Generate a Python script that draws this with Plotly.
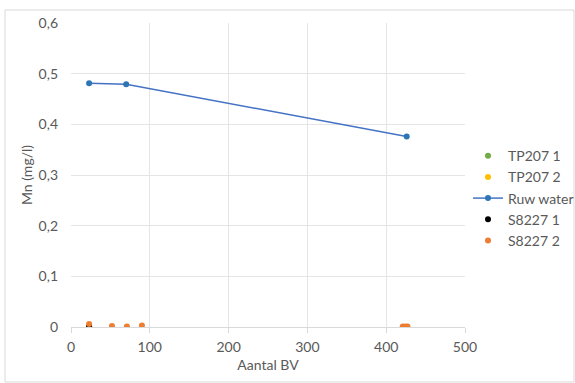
import plotly.graph_objects as go

# Data
tp207_1_x = [23, 23]
tp207_1_y = [0.0, 0.0]
tp207_2_x = [23]
tp207_2_y = [0.001]
ruw_x = [23, 70, 426]
ruw_y = [0.481, 0.479, 0.376]
s8227_1_x = [23]
s8227_1_y = [0.001]
s8227_2_x = [23, 52, 71, 90, 421, 424, 427]
s8227_2_y = [0.006, 0.002, 0.001, 0.003, 0.001, 0.001, 0.001]

x_ticks = [0, 100, 200, 300, 400, 500]
y_ticks = [0, 0.1, 0.2, 0.3, 0.4, 0.5, 0.6]
y_tick_text = ["0", "0,1", "0,2", "0,3", "0,4", "0,5", "0,6"]

fig = go.Figure()
fig.add_trace(go.Scatter(x=tp207_1_x, y=tp207_1_y, mode="markers", name="TP207 1",
                         marker=dict(color="#70AD47", size=6)))
fig.add_trace(go.Scatter(x=tp207_2_x, y=tp207_2_y, mode="markers", name="TP207 2",
                         marker=dict(color="#FFC000", size=6)))
fig.add_trace(go.Scatter(x=ruw_x, y=ruw_y, mode="lines+markers", name="Ruw water",
                         line=dict(color="#4472C4", width=1.5),
                         marker=dict(color="#2E75B6", size=6)))
fig.add_trace(go.Scatter(x=s8227_1_x, y=s8227_1_y, mode="markers", name="S8227 1",
                         marker=dict(color="#000000", size=6)))
fig.add_trace(go.Scatter(x=s8227_2_x, y=s8227_2_y, mode="markers", name="S8227 2",
                         marker=dict(color="#ED7D31", size=6)))

font_color = "#595959"
fnt = "Lato, Open Sans, sans-serif"
fig.update_layout(
    width=575, height=383,
    margin=dict(l=71, r=110, t=23, b=56, autoexpand=False),
    paper_bgcolor="white", plot_bgcolor="white",
    font=dict(family=fnt, size=14, color=font_color),
    showlegend=True,
    legend=dict(x=(468 - 71) / 394, y=0.424, xanchor="left", yanchor="middle",
                font=dict(family=fnt, size=14, color=font_color), tracegroupgap=0,
                itemwidth=30, bgcolor="rgba(0,0,0,0)"),
    xaxis=dict(range=[0, 500], tickvals=x_ticks, showgrid=True, gridcolor="#E5E5E5",
               zeroline=False, showline=False, ticks="outside", ticklen=5,
               tickcolor="#D9D9D9", automargin=False, ticklabelstandoff=2,
               title=dict(text="Aantal BV", font=dict(family=fnt, size=14, color=font_color),
                          standoff=6)),
    yaxis=dict(range=[0, 0.6], tickvals=y_ticks, ticktext=y_tick_text, showgrid=True,
               gridcolor="#E5E5E5", zeroline=True, zerolinecolor="#D9D9D9", zerolinewidth=1,
               showline=False, ticks="", ticklabelstandoff=12, automargin=False,
               title=dict(text="Mn (mg/l)", font=dict(family=fnt, size=14, color=font_color),
                          standoff=2)),
    shapes=[dict(type="rect", xref="paper", yref="paper",
                 x0=-66/394, x1=1 + 109/394, y0=-55/304, y1=1 + 13/304,
                 line=dict(color="#D9D9D9", width=1), fillcolor="rgba(0,0,0,0)")],
)
fig.write_html("out.html", config={"displayModeBar": False})

with open("out.html", "r", encoding="utf-8") as f:
    html = f.read()
html = html.replace("<body>", '<body style="margin:0;padding:0;">', 1)
with open("out.html", "w", encoding="utf-8") as f:
    f.write(html)
